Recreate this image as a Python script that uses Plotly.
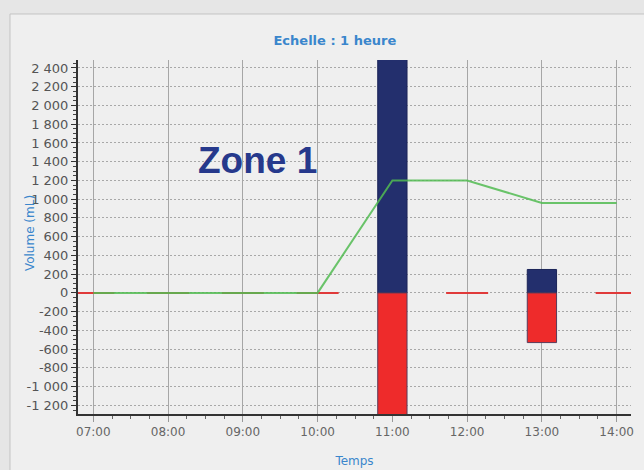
import plotly.graph_objects as go

# ---- data ----
heures = ["07:00", "08:00", "09:00", "10:00", "11:00", "12:00", "13:00", "14:00"]
entrees = [0, 0, 0, 0, 2700, 0, 250, 0]          # blue bars (mL)
sorties = [0, 0, 0, 0, -1500, 0, -530, 0]        # red bars (mL)
cumul = [0, 0, 0, 0, 1200, 1200, 960, 960]       # green line (mL)
y_ticks = list(range(-1200, 2401, 200))
y_ticktext = [("-" if v < 0 else "") + f"{abs(v):,}".replace(",", " ") for v in y_ticks]

day = "2024-01-01 "
x = [day + h for h in heures]
bar_w = 23.5 * 60 * 1000  # ms

fig = go.Figure()
fig.add_bar(x=x, y=entrees, width=bar_w, marker=dict(color="#232f6d", line=dict(color="#1b2458", width=1)),
            name="Entrées")
fig.add_bar(x=x, y=sorties, width=bar_w, marker=dict(color="#ee2b2b", line=dict(color="#5a3a5a", width=1)),
            name="Sorties")
# zero-volume outputs are drawn as short red dashes at 0
zx = [xi for xi, s in zip(x, sorties) if s == 0]
zy = [s for s in sorties if s == 0]
fig.add_scatter(x=zx, y=zy, mode="markers",
                marker=dict(symbol="line-ew-open", size=30, color="#e03a3a",
                            line=dict(color="#e03a3a", width=2)),
                showlegend=False)
fig.add_scatter(x=x, y=cumul, mode="lines", line=dict(color="#52bc52", width=2), opacity=0.85,
                showlegend=False)

fig.update_layout(
    width=644, height=470,
    margin=dict(l=78, r=13, t=60, b=56),
    barmode="relative",
    showlegend=False,
    paper_bgcolor="#e6e6e6",
    plot_bgcolor="#eeeeee",
    font=dict(family="DejaVu Sans", size=12, color="#555555"),
    title=dict(text="<b>Echelle : 1 heure</b>", x=0.52, xanchor="center", y=0.913, yanchor="middle",
               font=dict(family="DejaVu Sans", size=13, color="#3a86cc")),
    shapes=[dict(type="rect", xref="paper", yref="paper", x0=-0.123, x1=1.2, y0=-0.3, y1=1.13,
                 fillcolor="#efefef", line=dict(color="#c4c4c4", width=1), layer="below")],
    annotations=[
        dict(text="<b>Zone 1</b>", xref="paper", yref="paper", x=0.324, y=0.7175,
             xanchor="center", yanchor="middle", showarrow=False,
             font=dict(family="Liberation Sans", size=37, color="#26398c")),
        dict(text="Volume (mL)", xref="paper", yref="paper", x=-0.0868, y=0.511, textangle=-90,
             xanchor="center", yanchor="middle", showarrow=False,
             font=dict(family="DejaVu Sans", size=12, color="#3a86cc")),
    ],
)
fig.update_xaxes(
    type="date",
    automargin=False,
    range=[day + "06:47:42", day + "14:11:30"],
    tickformat="%H:%M",
    dtick=3600000,
    tick0=day + "07:00",
    ticks="outside", ticklen=6, tickcolor="#999999",
    showgrid=True, gridcolor="#a6a6a6", gridwidth=1,
    showline=True, linecolor="#333333", linewidth=2,
    minor=dict(dtick=900000, ticks="outside", ticklen=3, tickcolor="#666666", showgrid=False),
    tickfont=dict(family="DejaVu Sans", size=12, color="#666666"),
    title=dict(text="Temps", font=dict(family="DejaVu Sans", size=12, color="#3a86cc"), standoff=18),
    zeroline=False,
)
fig.update_yaxes(
    automargin=False,
    range=[-1292, 2485],
    tickvals=y_ticks, ticktext=y_ticktext,
    ticks="outside", ticklen=5, tickcolor="#333333",
    showgrid=True, gridcolor="#a8a8a8", griddash="2px,2px", gridwidth=1,
    showline=True, linecolor="#333333", linewidth=2,
    minor=dict(dtick=50, ticks="outside", ticklen=3, tickcolor="#444444", showgrid=False),
    tickfont=dict(family="DejaVu Sans", size=13, color="#555555"),
    zeroline=False,
)

fig.write_html("out.html", config={"displayModeBar": False},
               post_script="document.body.style.margin='0';document.body.style.background='#e6e6e6';")
